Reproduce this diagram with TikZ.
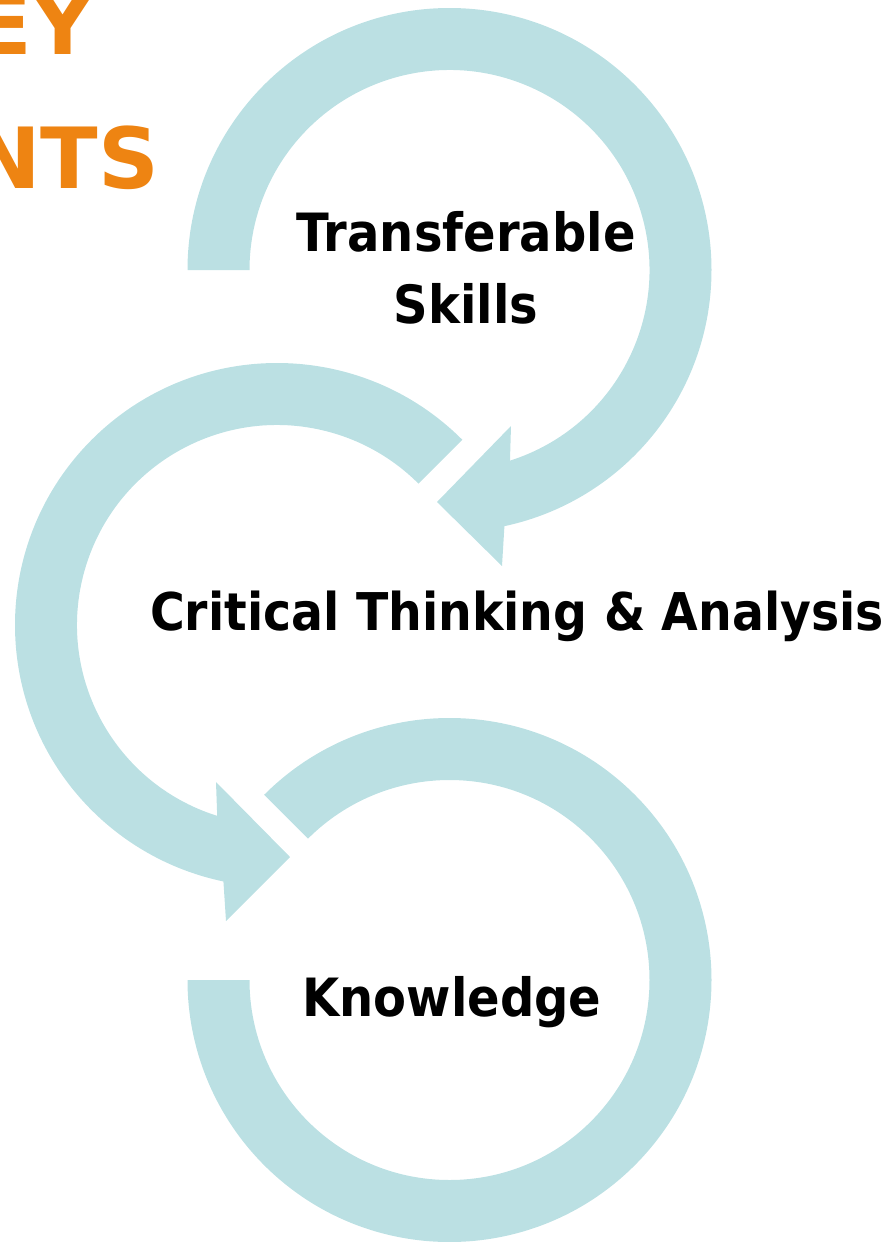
\documentclass[tikz,border=0pt]{standalone}
\usepackage{fontspec}
\setmainfont{DejaVu Sans}
\newfontfamily\stepfont{DejaVu Sans}[FakeStretch=0.91]
\usetikzlibrary{calc}

\definecolor{ringblue}{HTML}{BBE0E3}
\definecolor{headorange}{HTML}{EE8412}

\begin{document}
\begin{tikzpicture}[x=0.01cm,y=0.01cm,
  ring/.style={fill=ringblue,draw=none},
  steptext/.style={font=\stepfont\bfseries\fontsize{15}{20.2}\selectfont,inner sep=0pt,align=center,anchor=base},
  headtext/.style={font=\bfseries\fontsize{24}{28}\selectfont,text=headorange,inner sep=0pt,anchor=base east}]
\useasboundingbox (0,0) rectangle (891,-1242);
\clip (0,0) rectangle (891,-1242);
\coordinate (c1) at (449.5,-270);
\coordinate (c2) at (277,-625);
\coordinate (c3) at (449.5,-980);
% top ring, arrow ends pointing down-left
\fill[ring] ($(c1)+(180:262)$) arc[start angle=180,end angle=-77.9,radius=262]
  -- ($(c1)+(52.5,-296)$) -- ($(c1)+(-12.5,-232)$) -- ($(c1)+(61.5,-156)$)
  -- ($(c1)+(-72.4:200)$) arc[start angle=-72.4,end angle=180,radius=200] -- cycle;
% middle ring, arrow ends pointing down-right
\fill[ring] ($(c2)+(45:262)$) arc[start angle=45,end angle=258.2,radius=262]
  -- ($(c2)+(-51,-296)$) -- ($(c2)+(13,-232)$) -- ($(c2)+(-61,-157)$)
  -- ($(c2)+(252.6:200)$) arc[start angle=252.6,end angle=45,radius=200] -- cycle;
% bottom ring, no head
\fill[ring] ($(c3)+(135:262)$) arc[start angle=135,end angle=-180,radius=262]
  -- ($(c3)+(180:200)$) arc[start angle=-180,end angle=135,radius=200] -- cycle;
% heading, cut at the left edge
\node[headtext] (head1) at (94,-54) {EY};
\node[headtext] (head2) at (160,-188) {NTS};
% step names
\node[steptext] (skills) at (466,-323) {Transferable\\Skills};
\node[steptext,font=\stepfont\bfseries\fontsize{14.8}{18}\selectfont] (critical) at (517,-630) {Critical Thinking \& Analysis};
\node[steptext] (knowledge) at (452,-1016) {Knowledge};
\end{tikzpicture}
\end{document}
